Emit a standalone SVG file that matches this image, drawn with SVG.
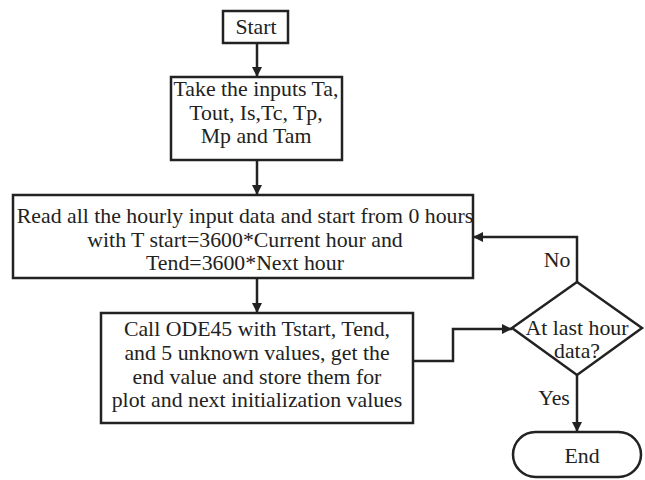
<svg xmlns="http://www.w3.org/2000/svg" width="645" height="480" viewBox="0 0 645 480">
<defs>
<style>
.box{fill:#fff;stroke:#222;stroke-width:2.5}
.ln{fill:none;stroke:#222;stroke-width:2.5}
.t{fill:#222;text-anchor:middle;font-family:'Liberation Serif','Times New Roman',serif;font-size:21.8px}
</style>
<marker id="ah" viewBox="0 0 10 10" refX="10" refY="5" markerWidth="10" markerHeight="10" markerUnits="userSpaceOnUse" orient="auto">
<path d="M0,0 L10,5 L0,10 z" fill="#222"/>
</marker>
</defs>
<rect width="645" height="480" fill="#fff"/>
<g id="connectors">
<line class="ln" x1="257" y1="43" x2="257" y2="77" marker-end="url(#ah)"/>
<line class="ln" x1="257" y1="160" x2="257" y2="195" marker-end="url(#ah)"/>
<line class="ln" x1="257" y1="278" x2="257" y2="313" marker-end="url(#ah)"/>
<polyline class="ln" points="413,361 453,361 453,329 512,329" marker-end="url(#ah)"/>
<polyline class="ln" points="577,282 577,237 473,237" marker-end="url(#ah)"/>
<line class="ln" x1="577" y1="375" x2="577" y2="432" marker-end="url(#ah)"/>
<text class="t" x="557" y="267">No</text>
<text class="t" x="554" y="405">Yes</text>
</g>
<g id="start">
<rect class="box" x="223" y="11" width="65" height="32"/>
<text class="t" x="256" y="34">Start</text>
</g>
<g id="inputs">
<rect class="box" x="171" y="77" width="171" height="83"/>
<text class="t" x="256" y="96">Take the inputs Ta,</text>
<text class="t" x="256" y="120">Tout, Is,Tc, Tp,</text>
<text class="t" x="256" y="143">Mp and Tam</text>
</g>
<g id="read">
<rect class="box" x="13" y="195" width="460" height="83"/>
<text class="t" x="245" y="223">Read all the hourly input data and start from 0 hours</text>
<text class="t" x="245" y="247">with T start=3600*Current hour and</text>
<text class="t" x="245" y="270">Tend=3600*Next hour</text>
</g>
<g id="ode">
<rect class="box" x="101" y="313" width="312" height="110"/>
<text class="t" x="257" y="336">Call ODE45 with Tstart, Tend,</text>
<text class="t" x="257" y="360">and 5 unknown values, get the</text>
<text class="t" x="257" y="384">end value and store them for</text>
<text class="t" x="257" y="407">plot and next initialization values</text>
</g>
<g id="decision">
<polygon class="box" points="577,282 642,328 577,375 512,328"/>
<text class="t" x="577" y="335">At last hour</text>
<text class="t" x="577" y="358">data?</text>
</g>
<g id="end">
<rect class="box" x="513" y="432" width="128" height="45" rx="22.5" ry="22.5"/>
<text class="t" x="582" y="463">End</text>
</g>
</svg>
